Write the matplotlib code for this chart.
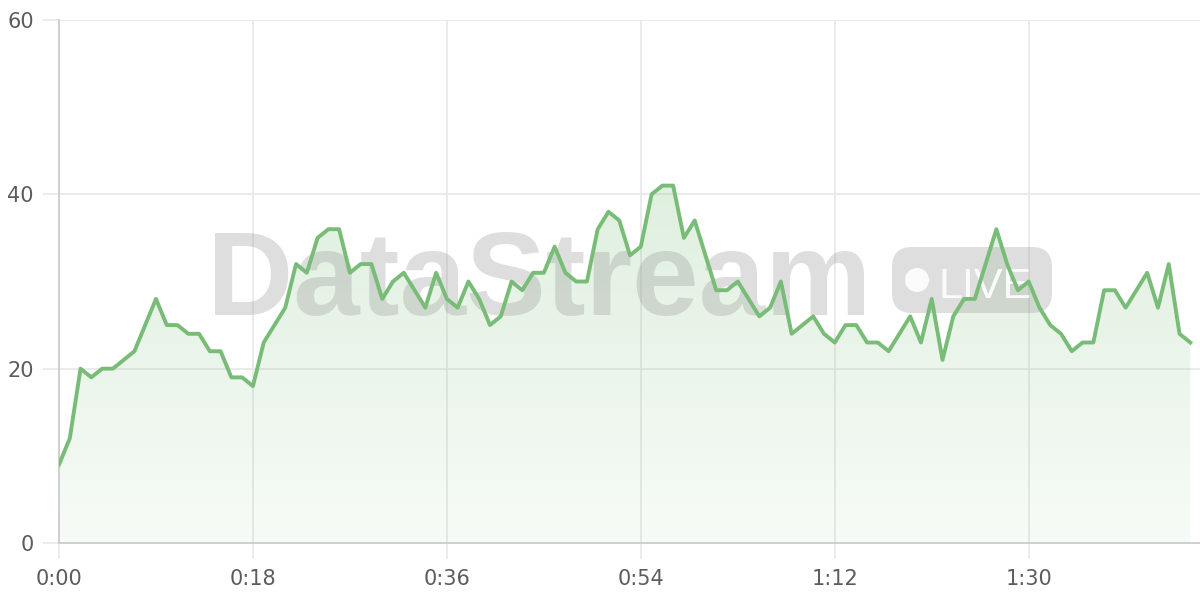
import numpy as np
import matplotlib
matplotlib.use("Agg")
import matplotlib.pyplot as plt
from matplotlib.patches import FancyBboxPatch, Circle
from matplotlib.transforms import IdentityTransform

# values, one per minute
values = [9, 12, 20, 19, 20, 20, 21, 22, 25, 28,
          25, 25, 24, 24, 22, 22, 19, 19, 18, 23,
          25, 27, 32, 31, 35, 36, 36, 31, 32, 32,
          28, 30, 31, 29, 27, 31, 28, 27, 30, 28,
          25, 26, 30, 29, 31, 31, 34, 31, 30, 30,
          36, 38, 37, 33, 34, 40, 41, 41, 35, 37,
          33, 29, 29, 30, 28, 26, 27, 30, 24, 25,
          26, 24, 23, 25, 25, 23, 23, 22, 24, 26,
          23, 28, 21, 26, 28, 28, 32, 36, 32, 29,
          30, 27, 25, 24, 22, 23, 23, 29, 29, 27,
          29, 31, 27, 32, 24, 23]
minutes = np.arange(len(values))
x_ticks = [0, 18, 36, 54, 72, 90]
x_labels = ["0:00", "0:18", "0:36", "0:54", "1:12", "1:30"]
y_ticks = [0, 20, 40, 60]

line_color = "#78bc78"
grid_color = "#e8e8e8"

fig = plt.figure(figsize=(12, 6), dpi=100)
ax = fig.add_axes([59 / 1200, 57 / 600, 1 - 59 / 1200, (543 - 20) / 600])

y = np.array(values, dtype=float)

# gradient fill under the line
fill = ax.fill_between(minutes, y, 0, color="none", lw=0)
grad = np.zeros((256, 1, 4))
grad[:, 0, 0] = 0.47
grad[:, 0, 1] = 0.74
grad[:, 0, 2] = 0.47
grad[:, 0, 3] = np.linspace(0.06, 0.25, 256)
img = ax.imshow(grad, extent=[0, minutes[-1], 0, 45], origin="lower",
                aspect="auto", zorder=1, interpolation="bilinear")
img.set_clip_path(fill.get_paths()[0], transform=ax.transData)

ax.plot(minutes, y, color=line_color, lw=2.8, zorder=4)

# watermark (pixel coords, under the line)
tr = IdentityTransform()
ax.text(207, 285, "DataStream", transform=tr, fontsize=86,
        fontweight="bold", family="Liberation Sans", color="#9a9a9a",
        alpha=0.32, ha="left", va="baseline", zorder=3, clip_on=False)
badge = FancyBboxPatch((892, 287), 160, 66, boxstyle="round,pad=0,rounding_size=20",
                       transform=tr, facecolor="#9a9a9a", edgecolor="none",
                       alpha=0.32, zorder=3, clip_on=False)
ax.add_patch(badge)
ax.add_patch(Circle((917, 320), 12, transform=tr, facecolor="white",
                    edgecolor="none", alpha=0.9, zorder=3, clip_on=False))
ax.text(938, 302, "LIVE", transform=tr, fontsize=31, family="Liberation Sans",
        color="white", alpha=0.9, ha="left", va="baseline", zorder=3,
        clip_on=False)

ax.set_xlim(0, 105.9)
ax.set_ylim(0, 60)
ax.set_xticks(x_ticks)
ax.set_xticklabels(x_labels)
ax.set_yticks(y_ticks)
ax.grid(True, color=grid_color, lw=1.2, zorder=0)
ax.set_axisbelow(True)
ax.tick_params(axis="both", length=11.5, width=1.2, color=grid_color,
               labelsize=15, labelcolor="#5c5c5c")
ax.tick_params(axis="x", pad=7)
ax.tick_params(axis="y", pad=6.5)
for s in ["top", "right"]:
    ax.spines[s].set_visible(False)
for s in ["left", "bottom"]:
    ax.spines[s].set_color("#cfcfcf")
    ax.spines[s].set_linewidth(1.4)

fig.savefig("out.png", dpi=100)
